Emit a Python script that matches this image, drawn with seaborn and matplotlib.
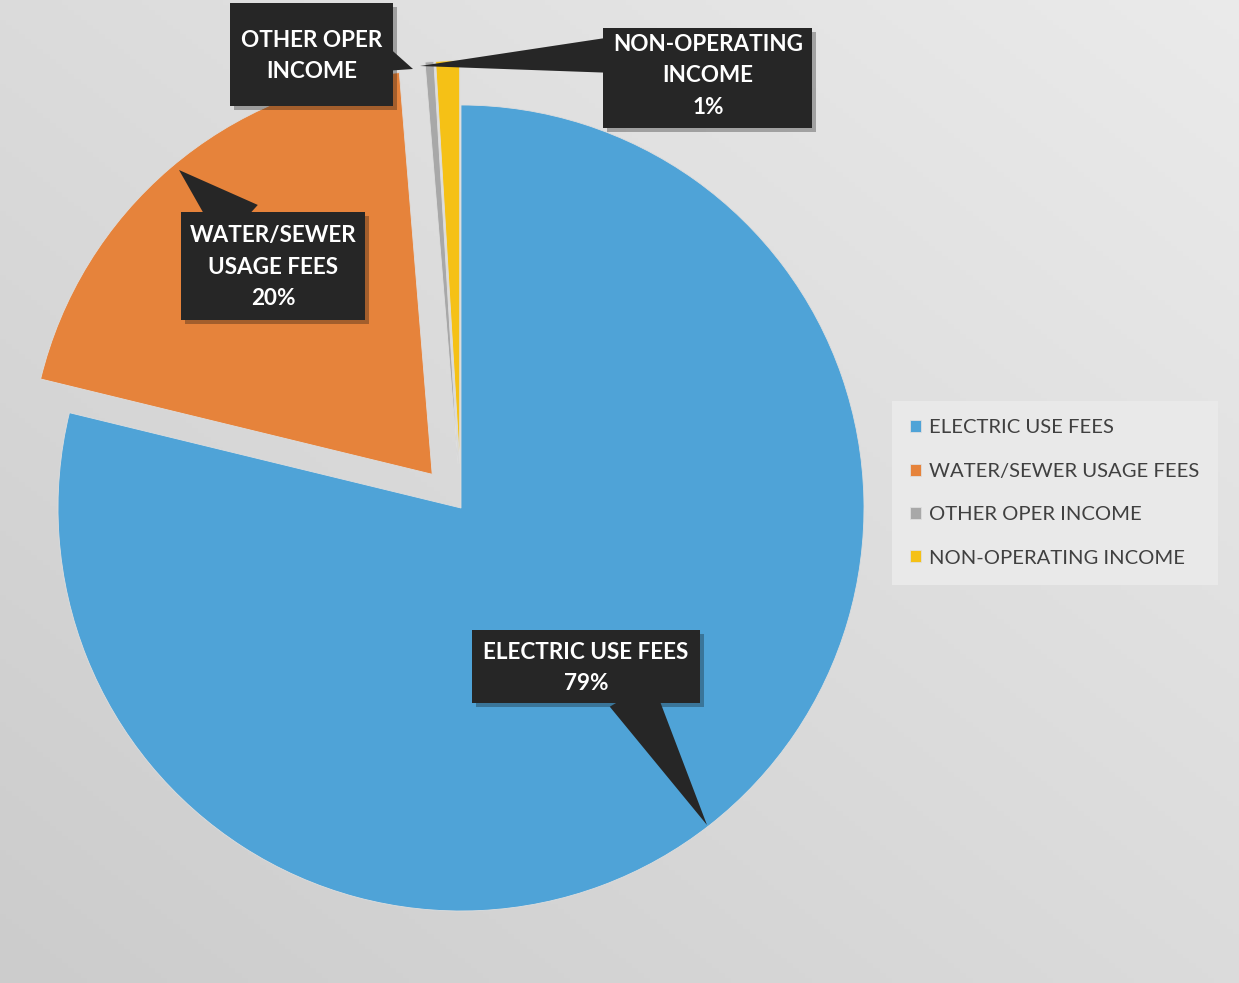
import matplotlib.pyplot as plt
import matplotlib.patheffects as pe
import numpy as np
import seaborn as sns
from matplotlib.patches import Rectangle

# data
categories = ["ELECTRIC USE FEES", "WATER/SEWER USAGE FEES",
              "OTHER OPER INCOME", "NON-OPERATING INCOME"]
shares = [78.8, 19.9, 0.35, 0.95]
callout_text = ["ELECTRIC USE FEES\n79%", "WATER/SEWER\nUSAGE FEES\n20%",
                "OTHER OPER\nINCOME", "NON-OPERATING\nINCOME\n1%"]
colors = ["#4fa3d7", "#e6833b", "#a8a8a8", "#f5c116"]

sns.set_style("white")
plt.rcParams["font.family"] = ["Lato", "DejaVu Sans"]

W, H = 1239, 983
fig = plt.figure(figsize=(W / 100, H / 100), dpi=100)
fig.patch.set_facecolor("#e0e0e0")

# scanned-paper gradient: darker bottom-left, lighter top-right
bgax = fig.add_axes([0, 0, 1, 1], zorder=0)
gx, gy = np.meshgrid(np.linspace(0, 1, 200), np.linspace(0, 1, 200))
shade = 0.80 + 0.12 * (0.5 * gx + 0.5 * (1 - gy))
bgax.imshow(np.dstack([shade] * 3), extent=[0, 1, 0, 1], aspect="auto")
bgax.axis("off")

ax = fig.add_axes([0, 0, 1, 1], zorder=1)
ax.patch.set_alpha(0)


def px(x, y):
    # pixel position (top-left origin) -> data coords
    return (x, H - y)


R = 403
wedges, _ = ax.pie(shares, colors=colors, startangle=90, counterclock=False,
                   explode=[0, 0.11 * R, 0.11 * R, 0.11 * R],
                   center=px(461, 508), radius=R,
                   wedgeprops=dict(edgecolor="#dedede", linewidth=0.6))
ax.set_xlim(0, W)
ax.set_ylim(0, H)
ax.set_aspect("auto")
ax.axis("off")

# callouts: box (left, top, right, bottom), text centre, pointer tip, pointer base
boxes = [(472, 630, 700, 703), (181, 212, 365, 320),
         (230, 3, 393, 106), (603, 28, 812, 128)]
label_pos = [(586, 668), (273, 267), (312, 56), (708, 76)]
tips = [(707, 825), (179, 170), (413, 69), (420, 66)]
relpos = [(0.72, 0.0), (0.3, 1.0), (1.0, 0.45), (0.0, 0.75)]
tails = [2.2, 2.4, 1.2, 1.6]
box_c = "#262626"

for txt, bx, pos, tip, rp, tw in zip(callout_text, boxes, label_pos, tips,
                                     relpos, tails):
    x0, y0, x1, y1 = bx
    rect = Rectangle(px(x0, y1), x1 - x0, y1 - y0, fc=box_c, ec="none", zorder=4)
    rect.set_path_effects([pe.withSimplePatchShadow(offset=(3, -3), alpha=0.3),
                           pe.Normal()])
    ax.add_patch(rect)
    ax.annotate(
        txt, xy=px(*tip), xytext=px(*pos), ha="center", va="center",
        color="white", fontsize=16.2, fontweight="bold", linespacing=1.62,
        arrowprops=dict(arrowstyle=f"wedge,tail_width={tw},shrink_factor=0.5",
                        fc=box_c, ec="none", relpos=rp, patchA=None,
                        shrinkA=0, shrinkB=0),
        zorder=5,
    )

leg = ax.legend(wedges, categories, loc="center left",
                bbox_to_anchor=(898 / W, 1 - 493 / H), borderaxespad=0,
                frameon=True, fontsize=14.6, labelcolor="#404040",
                handlelength=0.55, handleheight=0.55, handletextpad=0.4,
                labelspacing=1.3, borderpad=0.6)
leg.get_frame().set_facecolor("#e9e9e9")
leg.get_frame().set_edgecolor("none")
leg.get_frame().set_alpha(1)
leg.get_frame().set_boxstyle("square")

fig.savefig("out.png", dpi=100, facecolor=fig.get_facecolor())
